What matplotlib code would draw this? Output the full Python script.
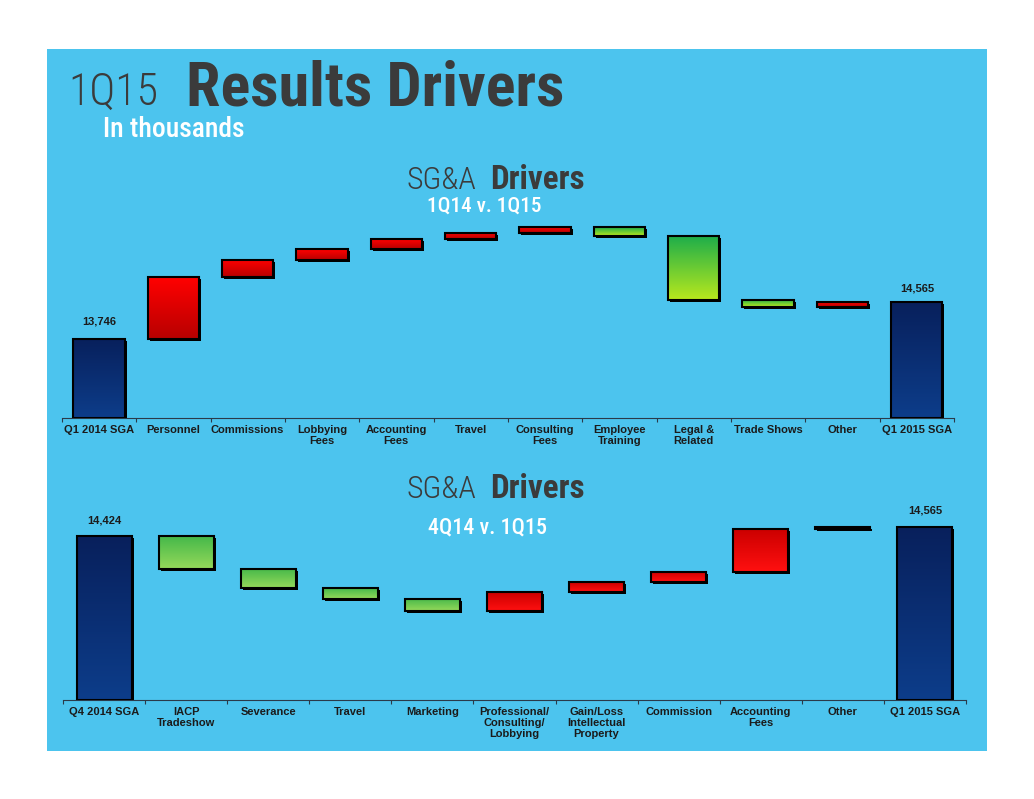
import numpy as np
import matplotlib.pyplot as plt
import matplotlib.transforms as mtransforms
from matplotlib.colors import LinearSegmentedColormap
from matplotlib.patches import Rectangle

W, H = 1034, 799

# SG&A drivers 1Q14 v. 1Q15 (in thousands)
top_labels = ['Q1 2014 SGA', 'Personnel', 'Commissions', 'Lobbying\nFees', 'Accounting\nFees',
              'Travel', 'Consulting\nFees', 'Employee\nTraining', 'Legal &\nRelated',
              'Trade Shows', 'Other', 'Q1 2015 SGA']
top_start, top_end = 13746, 14565
top_changes = [1356, 387, 236, 213, 139, 138, -198, -1408, -170, 126]

# SG&A drivers 4Q14 v. 1Q15 (in thousands)
bot_labels = ['Q4 2014 SGA', 'IACP\nTradeshow', 'Severance', 'Travel', 'Marketing',
              'Professional/\nConsulting/\nLobbying', 'Gain/Loss\nIntellectual\nProperty',
              'Commission', 'Accounting\nFees', 'Other', 'Q1 2015 SGA']
bot_start, bot_end = 14424, 14565
bot_changes = [-479, -290, -158, -178, 276, 148, 157, 627, 38]

COND = ['Roboto Condensed', 'Roboto']
TXT = '#3b3b3b'


def fx(x):
    return x / W


def fy(y):
    return 1 - y / H


fig = plt.figure(figsize=(W / 100, H / 100), dpi=100)
fig.patch.set_facecolor('white')
fig.patches.append(Rectangle((fx(47), fy(751)), 940 / W, 702 / H, transform=fig.transFigure,
                             facecolor='#4cc4ee', edgecolor='none', zorder=-5))
renderer = fig.canvas.get_renderer()


def fit_text(x, y, s, width_px, fs, **kw):
    # shrink the font if the text comes out wider than in the slide
    t = fig.text(fx(x), fy(y), s, fontsize=fs, ha='left', va='baseline', **kw)
    w = t.get_window_extent(renderer).width
    if w > width_px:
        t.set_fontsize(fs * width_px / w)
    return t


# titles
fit_text(68, 105, '1Q15', 90, 40, family=COND, fontweight='light', color=TXT)
fit_text(186, 105, 'Results Drivers', 378, 48, family=COND, fontweight='bold', color=TXT)
fit_text(103, 137, 'In thousands', 141, 20, family=COND, fontweight='medium', color='white')

for y_head, y_sub, sub, sub_x, sub_w in [(189, 212, '1Q14 v. 1Q15', 427, 114),
                                         (498, 533, '4Q14 v. 1Q15', 428, 119)]:
    fit_text(407, y_head, 'SG&A', 70, 23, family=COND, fontweight='light', color=TXT)
    fit_text(490, y_head, 'Drivers', 95, 24, family=COND, fontweight='bold', color=TXT)
    fit_text(sub_x, y_sub, sub, sub_w, 20, family=COND, fontweight='medium', color='white')


def grad_bar(ax, x, bottom, height, width, c_top, c_bot, shadow):
    ax.bar(x, height, bottom=bottom, width=width, color='black', transform=shadow, zorder=2)
    cmap = LinearSegmentedColormap.from_list('g', [c_bot, c_top])
    g = np.linspace(0, 1, 64).reshape(-1, 1)
    ax.imshow(g, extent=[x - width / 2, x + width / 2, bottom, bottom + height], origin='lower',
              cmap=cmap, aspect='auto', zorder=3, interpolation='bilinear')
    ax.bar(x, height, bottom=bottom, width=width, facecolor='none', edgecolor='black',
           linewidth=1.5, zorder=4)


def waterfall(ax, labels, start, changes, end, ymin, ymax, width, red, green, label_off):
    shadow = mtransforms.offset_copy(ax.transData, fig=fig, x=2, y=-2, units='dots')
    navy = ('#08205c', '#0d3d8a')
    n = len(labels)
    grad_bar(ax, 0, ymin, start - ymin, width, navy[0], navy[1], shadow)
    level = start
    for i, c in enumerate(changes, start=1):
        cols = red if c > 0 else green
        grad_bar(ax, i, min(level, level + c), abs(c), width, cols[0], cols[1], shadow)
        level += c
    grad_bar(ax, n - 1, ymin, end - ymin, width, navy[0], navy[1], shadow)
    for x, v, off in [(0, start, label_off[0]), (n - 1, end, label_off[1])]:
        ax.annotate(f'{v:,}', (x, v), xytext=(0, off), textcoords='offset points',
                    ha='center', va='bottom', fontweight='bold', fontsize=8,
                    family='Liberation Sans', color='#1b1b1b')
    ax.set_xlim(-0.5, n - 0.5)
    ax.set_ylim(ymin, ymax)
    ax.patch.set_visible(False)
    for s in ['left', 'right', 'top']:
        ax.spines[s].set_visible(False)
    ax.spines['bottom'].set_color('#2a3a4a')
    ax.spines['bottom'].set_linewidth(0.8)
    ax.set_yticks([])
    ax.set_xticks(range(n))
    ax.set_xticklabels(labels, fontsize=8, fontweight='bold', family='Liberation Sans',
                       color='#1b1b1b', linespacing=1.15, va='top')
    ax.set_xticks(np.arange(n + 1) - 0.5, minor=True)
    ax.tick_params(axis='x', which='major', length=0, pad=5)
    ax.tick_params(axis='x', which='minor', length=3, color='#2a3a4a', width=0.8)


ax1 = fig.add_axes([fx(61.8), fy(418.3), (954 - 61.8) / W, (418.3 - 213.8) / H])
waterfall(ax1, top_labels, top_start, top_changes, top_end, 12000, 16500, 0.69,
          red=('#ff0000', '#b80000'), green=('#1fae4a', '#b8e81d'), label_off=(9, 6))

ax2 = fig.add_axes([fx(63), fy(700), (966 - 63) / W, (700 - 511) / H])
waterfall(ax2, bot_labels, bot_start, bot_changes, bot_end, 12000, 14800, 0.67,
          red=('#cc0000', '#ff1010'), green=('#45b84a', '#95d95a'), label_off=(8, 8))

fig.savefig('out.png', dpi=100, facecolor=fig.get_facecolor())
